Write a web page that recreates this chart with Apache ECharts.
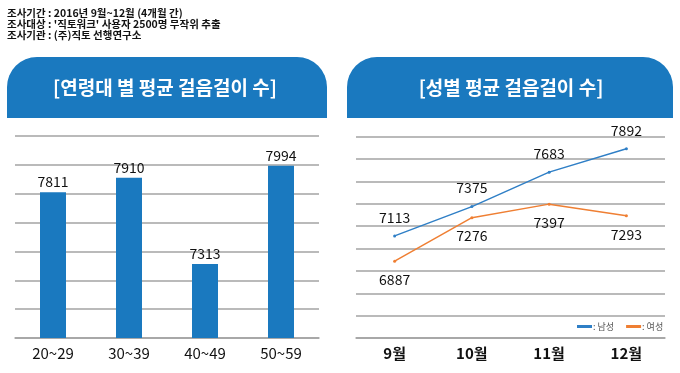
<!DOCTYPE html>
<html><head><meta charset="utf-8">
<script src="https://cdn.jsdelivr.net/npm/echarts@6/dist/echarts.min.js"></script>
<style>html,body{margin:0;padding:0;background:#fff}#c{width:680px;height:373px}</style>
</head><body><div id="c"></div>
<script>
const infoLines = ["조사기간 : 2016년 9월~12월 (4개월 간)", "조사대상 : '직토워크' 사용자 2500명 무작위 추출", "조사기관 : (주)직토 선행연구소"];
const ageTitle = "[연령대 별 평균 걸음걸이 수]";
const genderTitle = "[성별 평균 걸음걸이 수]";
const ageCategories = ["20~29", "30~39", "40~49", "50~59"];
const ageValues = [7811, 7910, 7313, 7994];
const months = ["9월", "10월", "11월", "12월"];
const maleValues = [7113, 7375, 7683, 7892];
const femaleValues = [6887, 7276, 7397, 7293];
const seriesNames = [": 남성", ": 여성"];

const FONT = '"Noto Sans CJK KR", "Noto Sans", sans-serif';
const BLUE = '#1a79bf';
const GRID = '#a3a3a3';
const chart = echarts.init(document.getElementById('c'));

const graphics = [];
infoLines.forEach((t, i) => graphics.push({
  type: 'text', x: 7, y: 13 + i * 11,
  style: { text: t, font: 'bold 10.5px ' + FONT, fill: '#111', verticalAlign: 'middle' }
}));
graphics.push({ type: 'rect', shape: { x: 7, y: 57, width: 320, height: 61, r: [30, 30, 0, 0] }, style: { fill: BLUE } });
graphics.push({ type: 'rect', shape: { x: 347, y: 57, width: 326, height: 61, r: [30, 30, 0, 0] }, style: { fill: BLUE } });
graphics.push({ type: 'text', x: 165, y: 88, style: { text: ageTitle, font: 'bold 19px ' + FONT, fill: '#fff', align: 'center', verticalAlign: 'middle' } });
graphics.push({ type: 'text', x: 511, y: 88, style: { text: genderTitle, font: 'bold 19px ' + FONT, fill: '#fff', align: 'center', verticalAlign: 'middle' } });

chart.setOption({
  animation: false,
  textStyle: { fontFamily: FONT },
  graphic: graphics,
  legend: {
    left: 572, top: 317, itemWidth: 15, itemHeight: 3, itemGap: 12, icon: 'rect',
    data: seriesNames,
    textStyle: { fontSize: 9, color: '#555', padding: [0, 0, 0, -4] }
  },
  grid: [
    { left: 15, right: 361, top: 136, bottom: 35 },
    { left: 356, right: 15, top: 136.7, bottom: 35 }
  ],
  xAxis: [
    { type: 'category', gridIndex: 0, data: ageCategories,
      axisLine: { lineStyle: { color: GRID, width: 1.5 } }, axisTick: { show: false },
      axisLabel: { color: '#111', fontSize: 15, margin: 8 } },
    { type: 'category', gridIndex: 1, data: months,
      axisLine: { lineStyle: { color: GRID, width: 1.5 } }, axisTick: { show: false },
      axisLabel: { color: '#111', fontSize: 15, fontWeight: 'bold', margin: 8 } }
  ],
  yAxis: [
    { type: 'value', gridIndex: 0, min: 6800, max: 8200, interval: 200,
      axisLabel: { show: false }, axisLine: { show: false }, axisTick: { show: false },
      splitLine: { lineStyle: { color: GRID, width: 1.5 } } },
    { type: 'value', gridIndex: 1, min: 6200, max: 8000, interval: 200,
      axisLabel: { show: false }, axisLine: { show: false }, axisTick: { show: false },
      splitLine: { lineStyle: { color: GRID, width: 1.5 } } }
  ],
  series: [
    { type: 'bar', xAxisIndex: 0, yAxisIndex: 0, data: ageValues, barWidth: 26,
      itemStyle: { color: BLUE },
      label: { show: true, position: 'top', distance: 3, color: '#111', fontSize: 14 } },
    { name: seriesNames[0], type: 'line', xAxisIndex: 1, yAxisIndex: 1, data: maleValues,
      color: '#2f7fc6', lineStyle: { width: 1.5 }, symbol: 'circle', symbolSize: 3,
      label: { show: true, position: 'top', distance: 10, color: '#111', fontSize: 14 } },
    { name: seriesNames[1], type: 'line', xAxisIndex: 1, yAxisIndex: 1, data: femaleValues,
      color: '#ef7f33', lineStyle: { width: 1.5 }, symbol: 'circle', symbolSize: 3,
      label: { show: true, position: 'bottom', distance: 10, color: '#111', fontSize: 14 } }
  ]
});
</script></body></html>
